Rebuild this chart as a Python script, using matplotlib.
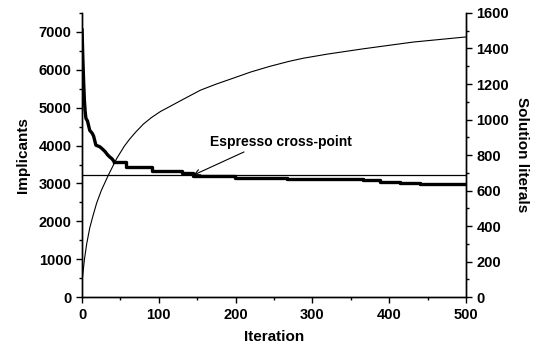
import matplotlib.pyplot as plt
from matplotlib.ticker import MultipleLocator

plt.rcParams['font.family'] = ['Liberation Sans', 'DejaVu Sans']
plt.rcParams['font.weight'] = 'bold'

# implicants (left axis): fast smooth drop, then steps
imp_iter_early = [0, 1, 2, 3, 4, 5, 7, 10, 13, 15, 18, 23, 27, 30, 33, 36, 39, 42]
imp_val_early = [7050, 6300, 5700, 5200, 4900, 4720, 4650, 4400, 4330, 4250,
                 4010, 3970, 3900, 3840, 3760, 3700, 3650, 3570]
imp_iter_late = [42, 57, 91, 130, 145, 199, 267, 366, 388, 414, 440, 500]
imp_val_late = [3570, 3430, 3320, 3270, 3190, 3140, 3120, 3080, 3040, 3020,
                2990, 2990]

# solution literals (right axis)
lit_iter = [0, 3, 6, 10, 14, 19, 25, 34, 45, 55, 62, 70, 80, 90, 102, 115,
            130, 154, 175, 193, 220, 245, 270, 288, 319, 366, 431, 500]
lit_val = [90, 210, 300, 390, 455, 530, 600, 685, 780, 850, 890, 930, 975,
           1010, 1045, 1075, 1110, 1165, 1200, 1227, 1268, 1300, 1328, 1345,
           1368, 1398, 1436, 1465]

espresso = 3220

fig = plt.figure(figsize=(5.4, 3.5), dpi=100)
ax = fig.add_axes([0.152, 0.151, 0.711, 0.812])
ax.plot(imp_iter_early, imp_val_early, c='black', lw=2.4)
ax.plot(imp_iter_late, imp_val_late, c='black', lw=2.4, drawstyle='steps-post')
ax.axhline(espresso, c='black', lw=0.9)
ax.set_xlim(0, 500)
ax.xaxis.set_major_locator(MultipleLocator(100))
ax.xaxis.set_minor_locator(MultipleLocator(50))
ax.yaxis.set_major_locator(MultipleLocator(1000))
ax.yaxis.set_minor_locator(MultipleLocator(500))
ax.set_ylim(0, 7500)
ax.spines['top'].set_visible(False)
ax.set_xlabel("Iteration", fontsize=11, fontweight='bold', labelpad=6)
ax.set_ylabel("Implicants", fontsize=11, fontweight='bold', labelpad=6)

ax2 = ax.twinx()
ax2.plot(lit_iter, lit_val, c='black', lw=0.8)
ax2.set_ylim(0, 1600)
ax2.yaxis.set_major_locator(MultipleLocator(200))
ax2.yaxis.set_minor_locator(MultipleLocator(100))
ax2.spines['top'].set_visible(False)
ax2.set_ylabel("Solution literals", fontsize=11, fontweight='bold',
               rotation=-90, labelpad=14)

for a in (ax, ax2):
    a.tick_params(which='major', direction='out', length=4, width=1,
                  labelsize=10.5)
    a.tick_params(which='minor', direction='out', length=2.5, width=1)
    for lab in a.get_xticklabels() + a.get_yticklabels():
        lab.set_fontweight('bold')
    for s in a.spines.values():
        s.set_linewidth(1)

ax.annotate("Espresso cross-point", xy=(145, espresso), xytext=(167, 4090),
            fontsize=10, fontweight='bold', va='center',
            arrowprops=dict(arrowstyle='->', lw=0.8, color='black',
                            shrinkA=0, shrinkB=0, relpos=(0.28, 0)))

fig.savefig('out.png')
